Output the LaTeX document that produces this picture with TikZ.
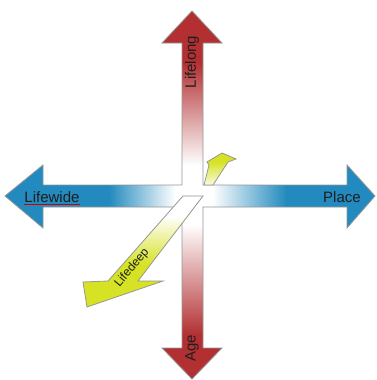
\documentclass[tikz,border=0pt]{standalone}
\usepackage{fontspec}
\setmainfont{Liberation Sans}
\definecolor{redc}{RGB}{178,48,50}
\definecolor{bluec}{RGB}{34,138,190}
\definecolor{yelc}{RGB}{214,226,36}
\definecolor{edgec}{RGB}{150,150,150}
\definecolor{txtc}{RGB}{30,30,30}
\pgfdeclareverticalshading{vred}{100bp}{color(0bp)=(redc); color(25bp)=(redc); color(31bp)=(redc); color(46bp)=(white); color(54bp)=(white); color(68bp)=(redc); color(75bp)=(redc); color(100bp)=(redc)}
\pgfdeclarehorizontalshading{hblue}{100bp}{color(0bp)=(bluec); color(25bp)=(bluec); color(39bp)=(bluec); color(48bp)=(white); color(53bp)=(white); color(63bp)=(bluec); color(75bp)=(bluec); color(100bp)=(bluec)}
\pgfdeclareverticalshading{yfade}{100bp}{color(0bp)=(yelc); color(25bp)=(yelc); color(44bp)=(yelc); color(66bp)=(white); color(100bp)=(white)}
\pgfdeclareverticalshading{yup}{100bp}{color(0bp)=(white); color(25bp)=(yelc!15); color(62bp)=(yelc); color(100bp)=(yelc)}
\tikzset{
  outl/.style={draw=edgec, line width=0.8pt, line join=miter},
  lbl/.style={text=txtc, font=\fontsize{15}{18}\selectfont, inner sep=0pt},
}
\begin{document}
\begin{tikzpicture}[x=1pt,y=-1pt]
\useasboundingbox (0,0) rectangle (377,380);
% vertical arrow fill
\shade[shading=vred] (192,11) -- (222,43) -- (203,43) -- (203,348) -- (222,348) -- (192,379) -- (162,348) -- (182,348) -- (182,43) -- (162,43) -- cycle;
% horizontal arrow fill
\shade[shading=hblue] (5,196) -- (43,165) -- (43,185) -- (347,185) -- (347,165) -- (375,196) -- (347,228) -- (347,207) -- (43,207) -- (43,228) -- cycle;
% combined outline
\draw[outl] (192,11) -- (222,43) -- (203,43) -- (203,185) -- (347,185) -- (347,165) -- (375,196) -- (347,228) -- (347,207) -- (203,207) -- (203,348) -- (222,348) -- (192,379) -- (162,348) -- (182,348) -- (182,207) -- (43,207) -- (43,228) -- (5,196) -- (43,165) -- (43,185) -- (182,185) -- (182,43) -- (162,43) -- cycle;
% upper (far) part of depth arrow
\shade[shading=yup, outl] (204,185) -- (209,165) -- (207,162) -- (222,153) -- (236,159) -- (228,162) -- (213,185) -- cycle;
% lower (near) part of depth arrow
\shade[shading=yfade, outl] (183,196) -- (203,196) -- (138,281) -- (163,281) -- (87,307) -- (83,282) -- (108,281) -- cycle;
% labels
\node[lbl, rotate=90] (lifelong) at (192,62) {Lifelong};
\node[lbl, rotate=90] (age) at (192,348) {Age};
\node[lbl, anchor=base] (lifewide) at (52,202) {Lifewide};
\node[lbl, anchor=base] (place) at (342,202) {Place};
\node[lbl, rotate=50, font=\fontsize{12}{14}\selectfont] (lifedeep) at (132,268) {Lifedeep};
\draw[red!80!black, line width=1pt] ([yshift=-2.5pt]lifewide.base west) -- ([yshift=-2.5pt]lifewide.base east);
\end{tikzpicture}
\end{document}
